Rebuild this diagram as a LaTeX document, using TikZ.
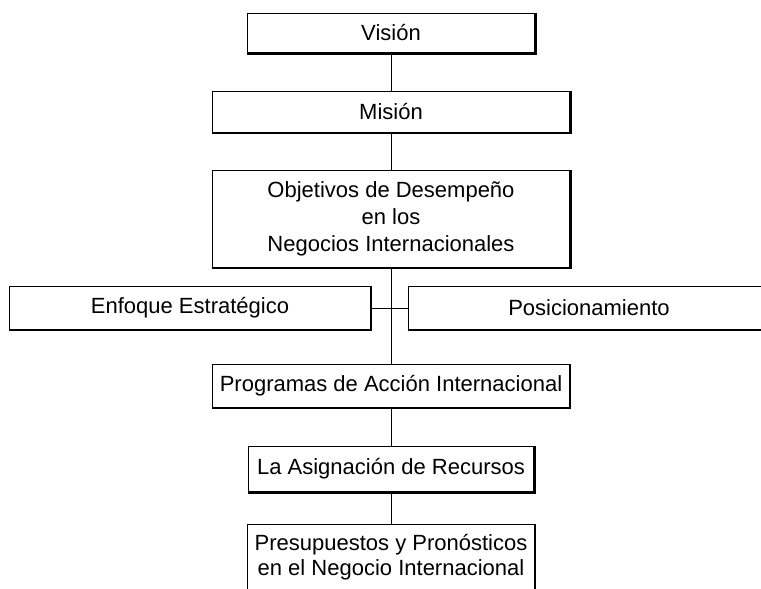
\documentclass[tikz,border=0pt]{standalone}
\usepackage{fontspec}
\setmainfont{Liberation Sans}
\tikzset{
  caja/.style={draw, line width=.6pt, align=center, inner sep=0pt,
    font=\fontsize{22}{27}\selectfont},
  sombra/.style={line width=2.5pt},
  linea/.style={line width=1pt}
}
\begin{document}
\begin{tikzpicture}[x=1pt,y=-1pt]
\useasboundingbox (0,0) rectangle (761,589);
\clip (0,0) rectangle (761,589);
% columna central
\node[caja, minimum width=288, minimum height=40] (vision) at (391,33) {Visión};
\node[caja, minimum width=358, minimum height=41] (mision) at (391,112) {Misión};
\node[caja, minimum width=358, minimum height=97] (objetivos) at (391,219)
  {Objetivos de Desempeño\\en los\\Negocios Internacionales};
\node[caja, minimum width=361, minimum height=43] (enfoque) at (190,308) {Enfoque Estratégico};
\node[caja, minimum width=362, minimum height=43] (posicion) at (589,308) {Posicionamiento};
\node[caja, minimum width=357, minimum height=43] (programas) at (391,386) {Programas de Acción Internacional};
\node[caja, minimum width=286, minimum height=46] (asignacion) at (391,469) {La Asignación de Recursos};
\node[caja, minimum width=287, minimum height=66, font=\fontsize{22}{25}\selectfont] (presupuestos) at (391,557)
  {Presupuestos y Pronósticos\\en el Negocio Internacional};

% sombra abajo y a la derecha
\foreach \n in {vision,mision,objetivos,enfoque,posicion,programas,asignacion,presupuestos}
  \draw[sombra] (\n.south west) -| (\n.north east);

\draw[linea] (vision) -- (mision);
\draw[linea] (mision) -- (objetivos);
\draw[linea] (objetivos) -- (programas);
\draw[linea] (enfoque) -- (posicion);
\draw[linea] (programas) -- (asignacion);
\draw[linea] (asignacion) -- (presupuestos);
\end{tikzpicture}
\end{document}
